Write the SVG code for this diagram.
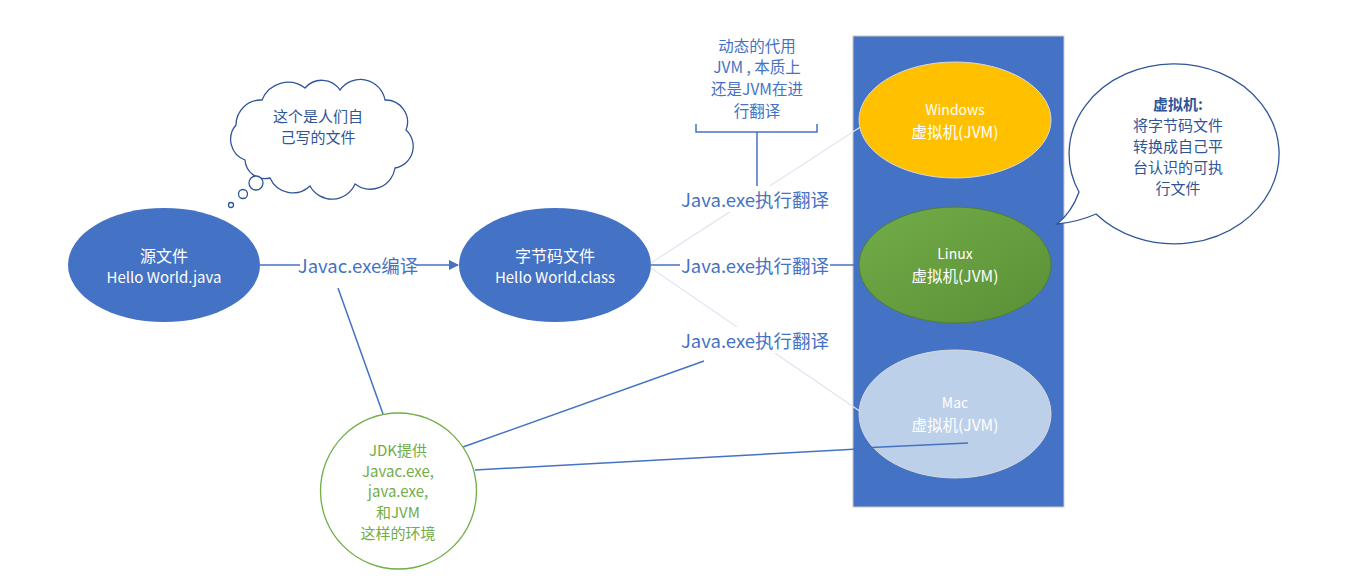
<svg xmlns="http://www.w3.org/2000/svg" width="1364" height="579" viewBox="0 0 1364 579">
<defs>
<style>
text{font-family:"Noto Sans CJK SC","Noto Sans",sans-serif;text-anchor:middle;dominant-baseline:central}
.w{fill:#fff;font-size:14px}
.lbl{fill:#4472C4;font-size:18.5px}
.ann{fill:#4472C4;font-size:15.5px}
.dk{fill:#2F5597;font-size:15px}
.gr{fill:#70AD47;font-size:15px}
.bl{stroke:#4472C4;stroke-width:1.5;fill:none}
.lt{stroke:#E3E5F3;stroke-width:1.3;fill:none}
</style>
<marker id="arr" markerWidth="10" markerHeight="10" refX="9" refY="5" orient="auto" markerUnits="userSpaceOnUse">
<path d="M0,0 L10,5 L0,10 Z" fill="#4472C4"/>
</marker>
<linearGradient id="lg" x1="0" y1="0" x2="1" y2="1">
<stop offset="0" stop-color="#72AC48"/>
<stop offset="1" stop-color="#5B9037"/>
</linearGradient>
</defs>
<rect width="1364" height="579" fill="#fff"/>

<g id="vm-panel">
<rect x="853" y="36" width="211" height="471" fill="#4472C4" stroke="#C8C8C8" stroke-width="1"/>
</g>

<g id="connectors">
<line class="lt" x1="651" y1="263" x2="862" y2="126"/>
<line class="lt" x1="651" y1="268" x2="861" y2="412"/>
<line class="bl" x1="260" y1="265" x2="300" y2="265"/>
<line class="bl" x1="417" y1="265" x2="458" y2="265" marker-end="url(#arr)"/>
<line class="bl" x1="651" y1="265" x2="680" y2="265"/>
<line class="bl" x1="830" y1="265" x2="854" y2="265"/>
<line class="bl" x1="338" y1="288" x2="383" y2="414"/>
<line class="bl" x1="463" y1="447" x2="704" y2="361"/>
<line class="bl" x1="475" y1="470" x2="968" y2="443"/>
<path class="bl" d="M696,124 V132 H817 V124 M757,132 V186"/>
</g>

<g id="src">
<ellipse cx="164" cy="265" rx="96" ry="57" fill="#4472C4"/>
<text class="w" x="164" y="255" style="font-size:16px">源文件</text>
<text class="w" x="164" y="276" style="font-size:15px">Hello World.java</text>
</g>

<g id="bytecode">
<ellipse cx="555" cy="265" rx="96" ry="57" fill="#4472C4"/>
<text class="w" x="555" y="255" style="font-size:16px">字节码文件</text>
<text class="w" x="555" y="276" style="font-size:15px">Hello World.class</text>
</g>

<g id="windows">
<ellipse cx="955" cy="120" rx="96" ry="58" fill="#FFC000" stroke="#D9D9D9" stroke-width="1"/>
<text class="w" x="955" y="109">Windows</text>
<text class="w" x="955" y="131" style="font-size:15.5px">虚拟机(JVM)</text>
</g>

<g id="linux">
<ellipse cx="955" cy="265" rx="96" ry="58" fill="url(#lg)" stroke="#507E32" stroke-width="1"/>
<text class="w" x="955" y="253">Linux</text>
<text class="w" x="955" y="275" style="font-size:15.5px">虚拟机(JVM)</text>
</g>

<g id="mac">
<ellipse cx="955" cy="414" rx="96" ry="64" fill="#BDD0E9" stroke="#D9D9D9" stroke-width="1"/>
<line class="bl" x1="860" y1="448" x2="968" y2="443"/>
<text class="w" x="955" y="402">Mac</text>
<text class="w" x="955" y="424" style="font-size:15.5px">虚拟机(JVM)</text>
</g>

<g id="jdk">
<circle cx="398.5" cy="491" r="78" fill="#fff" stroke="#70AD47" stroke-width="1.3"/>
<text class="gr" x="398" y="449">JDK提供</text>
<text class="gr" x="398" y="470">Javac.exe,</text>
<text class="gr" x="398" y="490">java.exe,</text>
<text class="gr" x="398" y="511">和JVM</text>
<text class="gr" x="398" y="532">这样的环境</text>
</g>

<g id="javac-label">
<rect x="300" y="253" width="117" height="24" fill="#fff"/>
<text class="lbl" x="358" y="265">Javac.exe编译</text>
</g>

<g id="java-label-top">
<rect x="679" y="186" width="152" height="26" fill="#fff"/>
<text class="lbl" x="755" y="199">Java.exe执行翻译</text>
</g>
<g id="java-label-mid">
<rect x="680" y="252" width="150" height="26" fill="#fff"/>
<text class="lbl" x="755" y="265">Java.exe执行翻译</text>
</g>
<g id="java-label-bot">
<rect x="679" y="327" width="152" height="26" fill="#fff"/>
<text class="lbl" x="755" y="340">Java.exe执行翻译</text>
</g>

<g id="dynamic-note">
<text class="ann" x="757" y="45">动态的代用</text>
<text class="ann" x="757" y="66">JVM , 本质上</text>
<text class="ann" x="757" y="88">还是JVM在进</text>
<text class="ann" x="757" y="110">行翻译</text>
</g>

<g id="cloud">
<path d="M245,160 A22,22 0 0 1 236,125 A25,25 0 0 1 262,100 A28,28 0 0 1 305,88 A22,22 0 0 1 340,90 A25,25 0 0 1 385,100 A22,22 0 0 1 406,130 A22,22 0 0 1 395,168 A25,25 0 0 1 355,184 A25,25 0 0 1 310,186 A25,25 0 0 1 270,178 A20,20 0 0 1 245,160 Z" fill="#fff" stroke="#2F5597" stroke-width="1.3"/>
<circle cx="256" cy="183" r="7" fill="#fff" stroke="#2F5597" stroke-width="1.3"/>
<circle cx="243" cy="194" r="4.5" fill="#fff" stroke="#2F5597" stroke-width="1.3"/>
<circle cx="231" cy="205" r="2.5" fill="#fff" stroke="#2F5597" stroke-width="1.3"/>
<text class="dk" x="318" y="115">这个是人们自</text>
<text class="dk" x="318" y="136">己写的文件</text>
</g>

<g id="vm-callout">
<path d="M1079,192 Q1072,212 1057,224 Q1078,222 1096,214 A105,90 0 1 0 1079,192 Z" fill="#fff" stroke="#2F5597" stroke-width="1.3"/>
<text class="dk" x="1178" y="103" font-weight="bold">虚拟机:</text>
<text class="dk" x="1178" y="124">将字节码文件</text>
<text class="dk" x="1178" y="145">转换成自己平</text>
<text class="dk" x="1178" y="166">台认识的可执</text>
<text class="dk" x="1178" y="187">行文件</text>
</g>
</svg>
